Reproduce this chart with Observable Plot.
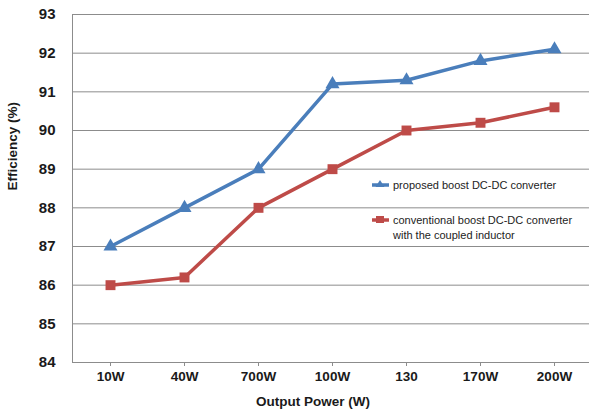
<!DOCTYPE html>
<html>
<head>
<meta charset="utf-8">
<script src="https://cdn.jsdelivr.net/npm/d3@7"></script>
<script src="https://cdn.jsdelivr.net/npm/@observablehq/plot@0.6"></script>
<style>
  body { margin: 0; background: #fff; }
  #wrap { position: relative; width: 589px; height: 411px; font-family: "Liberation Sans", Arial, sans-serif; }
  #legend { position: absolute; left: 372px; top: 178px; font-size: 11px; color: #222; line-height: 15px; }
  .item { display: flex; align-items: flex-start; }
  .item svg { flex: none; margin-right: 4px; margin-top: 0px; }
</style>
</head>
<body>
<div id="wrap"></div>
<script>
const categories = ["10W", "40W", "700W", "100W", "130", "170W", "200W"];
const proposed = [87, 88, 89, 91.2, 91.3, 91.8, 92.1];
const conventional = [86, 86.2, 88, 89, 90, 90.2, 90.6];
const yTicks = [84, 85, 86, 87, 88, 89, 90, 91, 92, 93];
const seriesNames = ["proposed boost DC-DC converter", "conventional boost DC-DC converter\nwith the coupled inductor"];
const seriesColors = ["#4a7ebb", "#be4b48"];
const seriesSymbols = ["triangle", "square"];

const data = [
  ...categories.map((c, i) => ({cat: c, value: proposed[i], series: seriesNames[0]})),
  ...categories.map((c, i) => ({cat: c, value: conventional[i], series: seriesNames[1]}))
];

const chart = Plot.plot({
  width: 589,
  height: 411,
  marginLeft: 72,
  marginRight: 0,
  marginTop: 14,
  marginBottom: 49,
  style: {fontFamily: "Liberation Sans, Arial, sans-serif", background: "#fff"},
  x: {type: "point", domain: categories, range: [109, 555], padding: 0},
  y: {domain: [84, 93]},
  color: {domain: seriesNames, range: seriesColors},
  symbol: {domain: seriesNames, range: seriesSymbols},
  marks: [
    Plot.gridY(yTicks, {stroke: "#8c8c8c", strokeOpacity: 1, strokeWidth: 1}),
    Plot.frame({anchor: "left", stroke: "#8c8c8c"}),
    Plot.axisY(yTicks, {tickSize: 0, tickPadding: 17, fontSize: 15, fontWeight: "bold", fill: "#1a1a1a", label: null}),
    Plot.axisX({tickSize: 4, tickPadding: 5, fontSize: 13.5, fontWeight: "bold", stroke: "#8c8c8c", fill: "#1a1a1a", label: null}),
    Plot.line(data, {x: "cat", y: "value", z: "series", stroke: "series", strokeWidth: 3.5}),
    Plot.dot(data.filter(d => d.series === seriesNames[0]), {x: "cat", y: "value", symbol: "series", fill: "series", r: 5.2, stroke: null}),
    Plot.dot(data.filter(d => d.series === seriesNames[1]), {x: "cat", y: "value", symbol: "series", fill: "series", r: 5.6, stroke: null}),
    Plot.text(["Output Power (W)"], {frameAnchor: "bottom", dx: -18, dy: 39, lineAnchor: "middle", fontSize: 13.5, fontWeight: "bold", fill: "#1a1a1a"}),
    Plot.text(["Efficiency (%)"], {frameAnchor: "left", dx: -60, dy: 2, rotate: -90, lineAnchor: "middle", fontSize: 13.5, fontWeight: "bold", fill: "#1a1a1a"})
  ]
});

const wrap = document.getElementById("wrap");
wrap.appendChild(chart);

const legend = document.createElement("div");
legend.id = "legend";
seriesNames.forEach((name, i) => {
  const item = document.createElement("div");
  item.className = "item";
  if (i === 1) item.style.marginTop = "20px";
  const sym = i === 0
    ? `<polygon points="8,2 12.5,9 3.5,9" fill="${seriesColors[i]}"/>`
    : `<rect x="4" y="3" width="8" height="7" fill="${seriesColors[i]}"/>`;
  item.innerHTML = `<svg width="17" height="14"><line x1="0" y1="7" x2="17" y2="7" stroke="${seriesColors[i]}" stroke-width="3.5"/>${sym}</svg><span>${name.replace("\n", "<br>")}</span>`;
  legend.appendChild(item);
});
wrap.appendChild(legend);
</script>
</body>
</html>
